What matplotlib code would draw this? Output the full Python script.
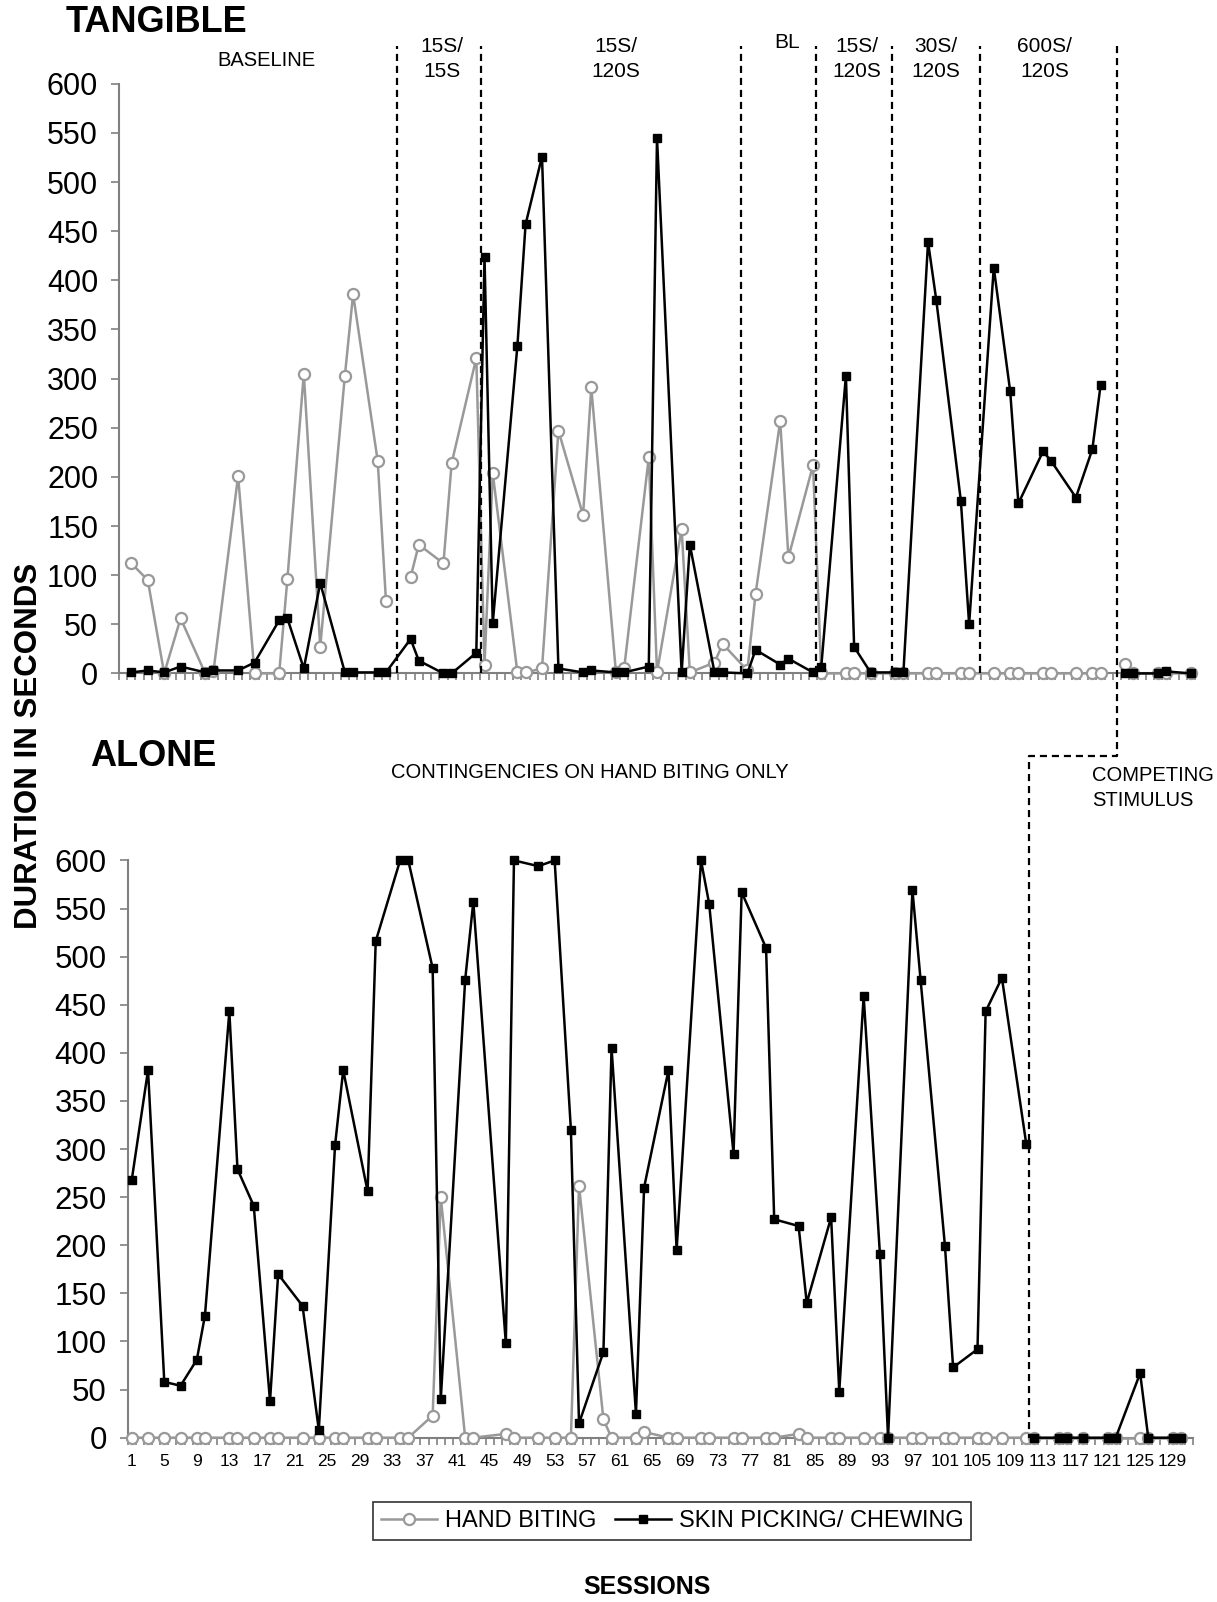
import matplotlib
matplotlib.use("Agg")
import numpy as np
import matplotlib.pyplot as plt
import matplotlib.transforms as mtransforms
from matplotlib.lines import Line2D

plt.rcParams['font.family'] = ['Liberation Sans', 'DejaVu Sans']

GRAY = '#999999'
AXGRAY = '#808080'

# TANGIBLE condition (top panel)
tang_sessions = [2, 4, 6, 8, 11, 12, 15, 17, 20, 21, 23, 25, 28, 29, 32, 33,
                 36, 37, 40, 41, 44,
                 45, 46, 49, 50, 52, 54, 57, 58, 61, 62, 65, 66, 69, 70, 73, 74,
                 77, 78, 81, 82, 85,
                 86, 89, 90, 92,
                 95, 96, 99, 100, 103, 104,
                 107, 109, 110, 113, 114, 117, 119, 120]
tang_hand = [112, 95, 0, 56, 0, 2, 201, 0, 0, 96, 305, 27, 303, 386, 216, 74,
             98, 131, 112, 214, 321,
             9, 204, 1, 1, 5, 247, 161, 291, 1, 5, 220, 1, 147, 1, 11, 30,
             3, 81, 257, 118, 212,
             0, 0, 0, 0,
             0, 0, 0, 0, 0, 0,
             0, 0, 0, 0, 0, 0, 0, 0]
tang_skin = [1, 3, 1, 7, 1, 3, 3, 11, 54, 56, 5, 92, 1, 1, 1, 1,
             35, 13, 0, 0, 21,
             424, 51, 333, 457, 526, 5, 1, 3, 1, 1, 7, 545, 1, 131, 1, 1,
             0, 24, 9, 15, 1,
             7, 303, 27, 1,
             1, 1, 439, 380, 175, 50,
             413, 287, 173, 226, 216, 179, 228, 293]
tang_cs_sessions = [123, 124, 127, 128, 131]
tang_cs_hand = [10, 0, 0, 0, 0]
tang_cs_skin = [0, 0, 0, 2, 0]

# ALONE condition (bottom panel)
alone_sessions = [1, 3, 5, 7, 9, 10, 13, 14, 16, 18, 19, 22, 24, 26, 27, 30, 31,
                  34, 35, 38, 39, 42, 43, 47, 48, 51, 53, 55, 56, 59, 60, 63, 64,
                  67, 68, 71, 72, 75, 76, 79, 80, 83, 84, 87, 88, 91, 93, 94, 97,
                  98, 101, 102, 105, 106, 108, 111]
alone_hand = [0, 0, 0, 0, 0, 0, 0, 0, 0, 0, 0, 0, 0, 0, 0, 0, 0,
              0, 0, 23, 250, 0, 0, 4, 0, 0, 0, 0, 262, 19, 0, 0, 6,
              0, 0, 0, 0, 0, 0, 0, 0, 4, 0, 0, 0, 0, 0, 0, 0,
              0, 0, 0, 0, 0, 0, 0]
alone_skin = [268, 382, 58, 54, 81, 127, 443, 279, 241, 38, 170, 137, 8, 304, 382, 256, 516,
              600, 600, 488, 40, 476, 557, 98, 600, 594, 600, 320, 15, 89, 405, 25, 260,
              382, 195, 600, 555, 295, 567, 509, 227, 220, 140, 229, 48, 459, 191, 0, 569,
              476, 199, 73, 92, 443, 478, 305]
alone_cs_sessions = [112, 115, 116, 118, 121, 122, 125, 126, 129, 130]
alone_cs_hand = [0, 0, 0, 0, 0, 0, 0, 0, 0, 0]
alone_cs_skin = [0, 0, 0, 0, 0, 0, 67, 0, 0, 0]

# phase change lines (session units) and labels
tang_phase_lines = [34.3, 44.6, 76.2, 85.4, 94.6, 105.3]
tang_cs_line = 122.0
alone_cs_line = 111.3
tang_phase_labels = ['BASELINE', '15S/\n15S', '15S/\n120S', 'BL', '15S/\n120S',
                     '30S/\n120S', '600S/\n120S']
tang_label_pos = [18.4, 39.8, 61.0, 81.8, 90.3, 99.9, 113.2]

W, H = 1217, 1602
fig = plt.figure(figsize=(W / 100, H / 100), dpi=100)


def fx(px):
    return px / W


def fy(py):
    return 1 - py / H


ax_t = fig.add_axes([fx(119), fy(673.4), fx(1195 - 119), (673.4 - 83.8) / H])
ax_b = fig.add_axes([fx(127.7), fy(1437.7), fx(1193 - 127.7), (1437.7 - 860.4) / H])


def style_axis(ax, labels, ysize):
    ax.set_xlim(0.5, 131.5)
    ax.set_ylim(0, 600)
    for side in ['top', 'right']:
        ax.spines[side].set_visible(False)
    for side in ['left', 'bottom']:
        ax.spines[side].set_color(AXGRAY)
        ax.spines[side].set_linewidth(1.5)
    ax.set_yticks(np.arange(0, 601, 50))
    ax.tick_params(axis='y', direction='out', length=6, width=1.2,
                   color=AXGRAY, labelsize=ysize, pad=9)
    ax.set_xticks(np.arange(0.5, 132, 1), minor=True)
    ax.tick_params(axis='x', which='minor', direction='out', length=5,
                   width=1.2, color=AXGRAY)
    if labels:
        ax.set_xticks(range(1, 131, 4))
        ax.tick_params(axis='x', which='major', length=0, labelsize=12.5, pad=12)
    else:
        ax.set_xticks([])


def plot_series(ax, sessions, values, kind, breaks=()):
    s = np.asarray(sessions, float)
    v = np.asarray(values, float)
    edges = [s.min() - 1] + list(breaks) + [s.max() + 1]
    for lo, hi in zip(edges[:-1], edges[1:]):
        m = (s > lo) & (s < hi)
        if kind == 'hand':
            ax.plot(s[m], v[m], color=GRAY, lw=1.8, marker='o', ms=8,
                    mfc='white', mec=GRAY, mew=1.6, clip_on=False, zorder=3)
        else:
            ax.plot(s[m], v[m], color='black', lw=1.8, marker='s', ms=6,
                    mfc='black', mec='black', clip_on=False, zorder=4)


style_axis(ax_t, False, 22)
style_axis(ax_b, True, 22.5)

plot_series(ax_t, tang_sessions, tang_hand, 'hand', breaks=[34.3])
plot_series(ax_t, tang_sessions, tang_skin, 'skin')
plot_series(ax_t, tang_cs_sessions, tang_cs_hand, 'hand')
plot_series(ax_t, tang_cs_sessions, tang_cs_skin, 'skin')

plot_series(ax_b, alone_sessions, alone_hand, 'hand')
plot_series(ax_b, alone_sessions, alone_skin, 'skin')
plot_series(ax_b, alone_cs_sessions, alone_cs_hand, 'hand')
plot_series(ax_b, alone_cs_sessions, alone_cs_skin, 'skin')

# phase lines
inv = fig.transFigure.inverted()


def data_to_figx(ax, x):
    return inv.transform(ax.transData.transform((x, 0)))[0]


dash = dict(color='black', lw=1.6, linestyle=(0, (3.2, 2.2)), transform=fig.transFigure)
y_top = fy(46)
y_t0 = fy(673.4)
y_step = fy(756)
y_b0 = fy(1437.7)
for x in tang_phase_lines:
    xf = data_to_figx(ax_t, x)
    fig.add_artist(Line2D([xf, xf], [y_t0, y_top], **dash))
xt = data_to_figx(ax_t, tang_cs_line)
xb = data_to_figx(ax_b, alone_cs_line)
fig.add_artist(Line2D([xt, xt, xb, xb], [y_top, y_step, y_step, y_b0], **dash))

# phase labels
blend = mtransforms.blended_transform_factory(ax_t.transData, fig.transFigure)
for lab, x in zip(tang_phase_labels, tang_label_pos):
    if '\n' in lab:
        fig.text(x, fy(59), lab, transform=blend, ha='center', va='center',
                 fontsize=15, linespacing=1.45)
    elif lab == 'BL':
        fig.text(x, fy(43), lab, transform=blend, ha='center', va='center', fontsize=15)
    else:
        fig.text(x, fy(61), lab, transform=blend, ha='center', va='center', fontsize=14.5)

fig.text(fx(590), fy(772.5), 'CONTINGENCIES ON HAND BITING ONLY', ha='center',
         va='center', fontsize=14.5)
fig.text(fx(1092), fy(788), 'COMPETING\nSTIMULUS', ha='left', va='center',
         fontsize=14.5, linespacing=1.45, multialignment='left')

fig.text(fx(66), fy(23), 'TANGIBLE', ha='left', va='center', fontsize=26,
         fontweight='bold')
fig.text(fx(90), fy(756), 'ALONE', ha='left', va='center', fontsize=26,
         fontweight='bold')
fig.text(fx(29), fy(746), 'DURATION IN SECONDS', rotation=90, ha='center',
         va='center', fontsize=22.5, fontweight='bold')
fig.text(fx(647), fy(1587), 'SESSIONS', ha='center', va='center', fontsize=18,
         fontweight='bold')

handles = [Line2D([], [], color=GRAY, lw=1.8, marker='o', ms=8, mfc='white',
                  mec=GRAY, mew=1.6),
           Line2D([], [], color='black', lw=1.8, marker='s', ms=6)]
leg = fig.legend(handles, ['HAND BITING', 'SKIN PICKING/ CHEWING'], loc='center',
                 bbox_to_anchor=(fx(672), fy(1521)), ncol=2, frameon=True,
                 fancybox=False, edgecolor='black', fontsize=17, handlelength=2.4,
                 handletextpad=0.3, columnspacing=0.8, borderpad=0.35)
leg.get_frame().set_linewidth(1.2)

fig.savefig('out.png', dpi=100)
